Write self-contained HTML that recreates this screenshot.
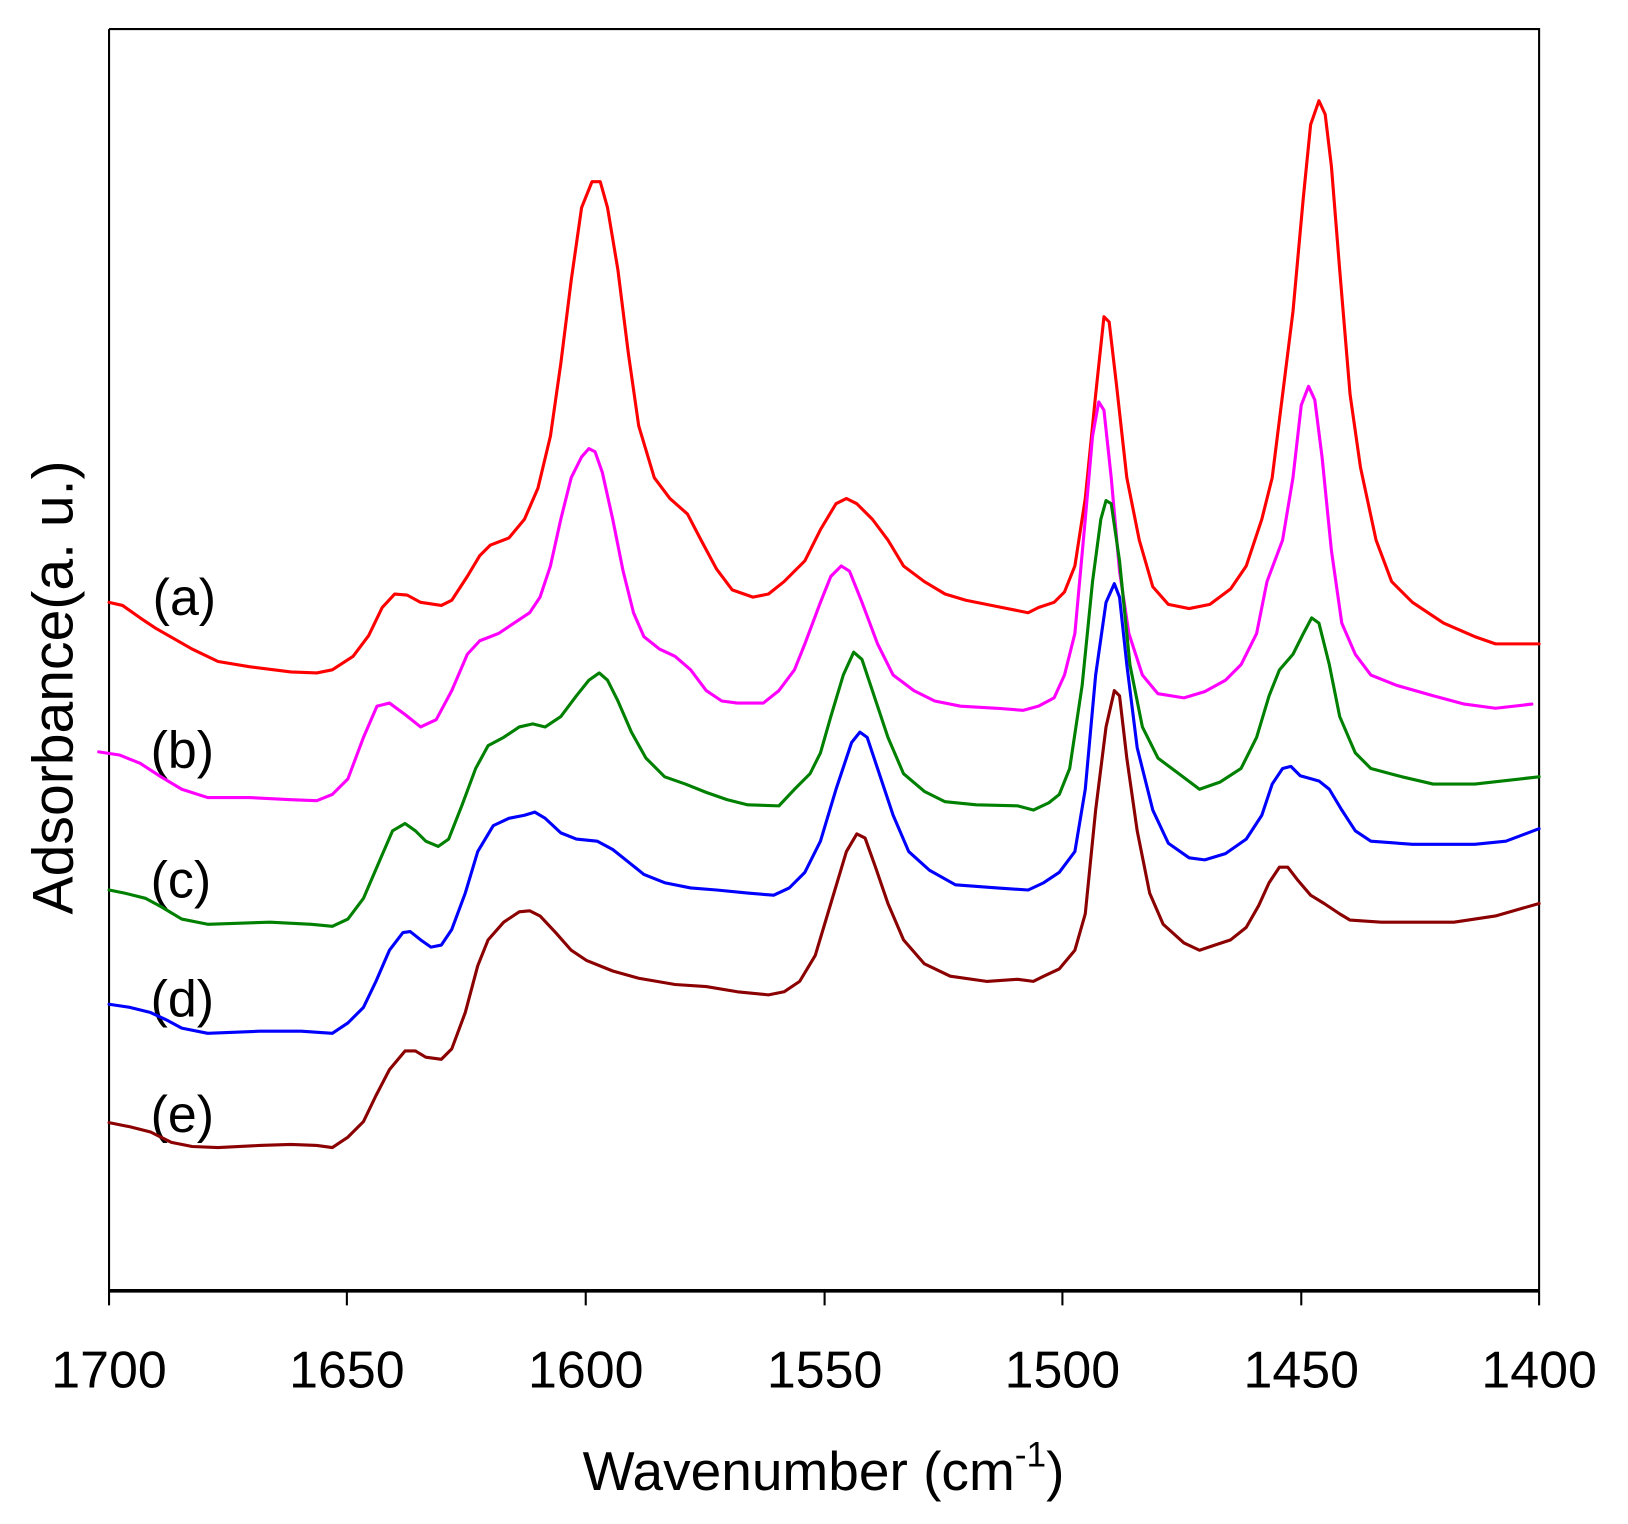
<!DOCTYPE html>
<html><head><meta charset="utf-8"><style>html,body{margin:0;padding:0;background:#fff;overflow:hidden}svg{display:block}</style></head>
<body>
<svg width="1628" height="1524" viewBox="0 0 1567.6 1467.5" preserveAspectRatio="none" xmlns="http://www.w3.org/2000/svg">
<rect width="1567.6" height="1467.5" fill="#fff"/>
<g stroke="#000" fill="none">
<path d="M105,28 H1482 V1243" stroke-width="2"/>
<path d="M105,28 V1257" stroke-width="2"/>
<path d="M105,1243 H1482" stroke-width="3.5"/>
<path d="M1482,1243 V1257 M334,1243 V1257 M564,1243 V1257 M794,1243 V1257 M1023,1243 V1257 M1253,1243 V1257" stroke-width="2"/>
</g>
<g font-family="Liberation Sans, sans-serif" font-size="50" text-anchor="middle" fill="#000">
<text x="105" y="1336">1700</text><text x="334" y="1336">1650</text><text x="564" y="1336">1600</text>
<text x="794" y="1336">1550</text><text x="1023" y="1336">1500</text><text x="1253" y="1336">1450</text><text x="1482" y="1336">1400</text>
</g>
<g font-family="Liberation Sans, sans-serif" fill="#000">
<text x="793" y="1435" font-size="53" text-anchor="middle">Wavenumber (cm<tspan font-size="34" dy="-23">-1</tspan><tspan dy="23">)</tspan></text>
<text transform="translate(70,662) rotate(-90)" font-size="55" text-anchor="middle">Adsorbance(a. u.)</text>
<g font-size="50"><text x="147" y="592">(a)</text><text x="145" y="739">(b)</text><text x="145" y="864">(c)</text><text x="145" y="979">(d)</text><text x="145" y="1090">(e)</text></g>
</g>
<g fill="none" stroke-width="3" stroke-linejoin="round" stroke-linecap="round">
<polyline stroke="#ff0000" points="105,580 118,583 135,595 150,605 185,625 210,637 240,642 280,647 305,648 320,645 340,632 355,612 368,585 380,572 392,573 405,580 425,583 435,578 450,555 462,535 472,525 490,518 505,500 518,470 530,420 540,350 550,270 560,200 570,175 578,175 585,200 595,260 605,340 615,410 630,460 645,480 662,495 675,520 690,548 705,568 725,575 740,572 755,560 775,540 790,510 805,485 815,480 825,485 840,500 855,520 870,545 890,560 910,572 930,578 960,584 990,590 1000,585 1015,580 1025,570 1035,545 1045,480 1055,380 1063,305 1068,310 1075,370 1085,460 1097,520 1110,565 1125,582 1145,586 1165,582 1185,567 1200,545 1215,500 1225,460 1235,380 1245,300 1255,190 1262,120 1270,97 1276,110 1282,160 1290,260 1300,380 1310,450 1325,520 1340,560 1360,580 1390,600 1420,613 1440,620 1482,620"/>
<polyline stroke="#ff00ff" points="95,724 115,727 135,735 155,748 175,760 200,768 240,768 280,770 305,771 320,765 335,750 350,710 363,680 375,677 390,688 405,700 420,693 435,665 450,630 462,617 480,610 495,600 510,590 520,575 530,545 540,500 550,460 560,440 567,432 573,435 580,455 590,500 600,550 610,590 620,613 635,625 650,632 665,645 680,665 695,675 710,677 735,677 750,665 765,645 775,620 790,580 800,555 810,545 818,550 830,580 845,620 860,650 880,665 900,675 925,680 960,682 985,684 1000,680 1015,672 1025,650 1035,610 1045,500 1052,420 1058,387 1063,395 1070,460 1078,550 1087,610 1100,650 1115,668 1140,672 1160,666 1180,655 1195,640 1210,610 1220,560 1235,520 1245,460 1253,390 1260,372 1266,385 1273,440 1282,530 1292,600 1305,630 1320,650 1345,660 1380,670 1410,678 1440,682 1475,678"/>
<polyline stroke="#008000" points="105,857 120,860 140,865 155,873 175,885 200,890 260,888 300,890 320,892 335,885 350,865 365,830 378,800 390,793 400,800 410,810 422,815 432,808 445,775 458,740 470,718 485,710 500,700 513,697 525,700 540,690 555,670 567,655 577,648 585,655 595,675 608,705 622,730 640,748 660,755 680,763 700,770 720,775 750,776 765,760 780,745 790,725 800,690 812,650 822,628 830,635 840,665 855,710 870,745 890,762 910,772 940,775 980,776 995,780 1010,773 1020,765 1030,740 1042,660 1052,560 1060,500 1065,482 1070,485 1078,540 1088,640 1100,700 1115,730 1135,745 1155,760 1175,753 1195,740 1210,710 1222,670 1232,645 1245,630 1255,610 1263,595 1270,600 1280,640 1290,690 1305,725 1320,740 1350,748 1380,755 1420,755 1482,748"/>
<polyline stroke="#0000ff" points="105,967 125,970 145,975 160,982 175,990 200,995 250,993 290,993 320,995 335,985 350,970 362,945 375,915 388,898 395,897 405,905 415,912 425,910 435,895 448,860 460,820 475,795 490,788 505,785 515,782 525,788 540,802 555,808 575,810 590,818 605,830 620,842 640,850 665,855 690,857 720,860 745,862 760,855 775,840 790,810 805,760 820,715 828,705 835,710 845,740 860,785 875,820 895,838 920,852 960,855 990,857 1005,850 1020,840 1035,820 1045,760 1055,650 1065,580 1073,562 1078,575 1085,640 1095,720 1110,780 1125,812 1145,826 1160,828 1180,822 1200,808 1215,785 1225,755 1235,740 1243,738 1252,747 1270,752 1280,760 1292,780 1305,800 1320,810 1360,813 1420,813 1450,810 1482,798"/>
<polyline stroke="#8b0000" points="105,1081 125,1085 145,1090 165,1100 185,1104 210,1105 250,1103 280,1102 305,1103 320,1105 335,1095 350,1080 362,1055 375,1030 390,1012 400,1012 410,1018 425,1020 435,1010 448,975 460,930 470,905 485,888 500,878 510,877 520,882 535,898 550,915 565,925 590,935 615,942 650,948 680,950 710,955 740,958 755,955 770,945 785,920 800,870 815,820 825,803 833,807 843,835 855,870 870,905 890,928 915,940 950,945 980,943 995,945 1005,940 1020,933 1035,915 1045,880 1055,780 1065,700 1073,665 1078,670 1085,730 1095,800 1107,860 1120,890 1140,908 1155,915 1170,910 1185,905 1200,893 1212,872 1222,850 1232,835 1240,835 1250,848 1262,862 1275,870 1290,880 1300,886 1330,888 1400,888 1440,882 1482,870"/>
</g>
</svg>
</body></html>
